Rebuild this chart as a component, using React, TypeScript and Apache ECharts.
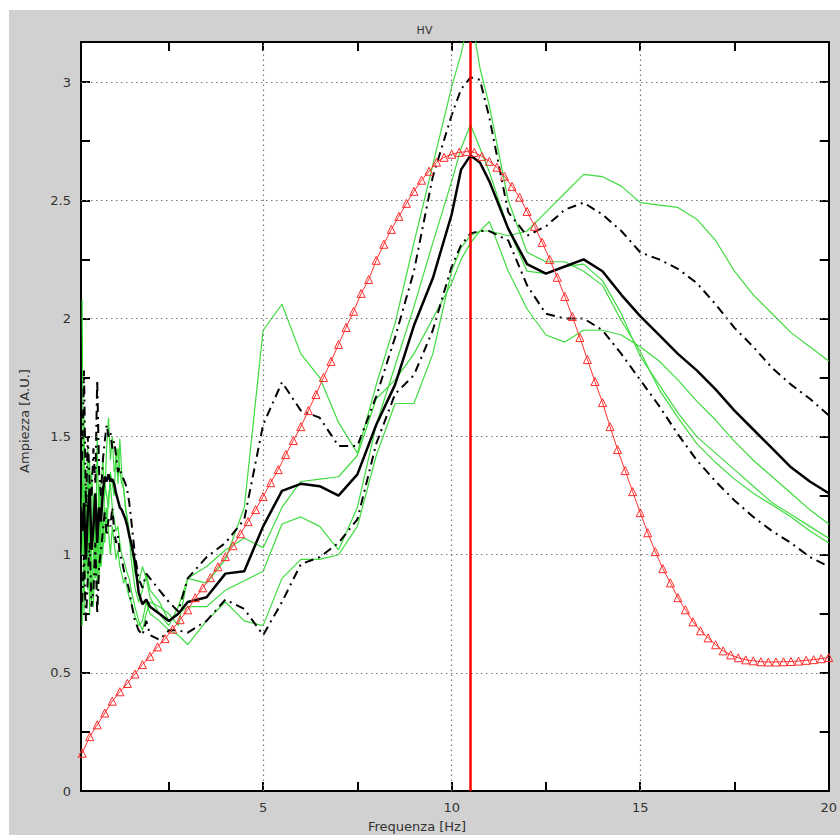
import React, { useEffect, useRef } from "react";
import * as echarts from "echarts";

// ---------- data ----------
const FREQ = [
  0.2, 0.25, 0.3, 0.35, 0.4, 0.45, 0.5, 0.55, 0.6, 0.65, 0.7, 0.75, 0.8, 0.85, 0.9, 0.95,
  1.0, 1.05, 1.1, 1.15, 1.2, 1.25, 1.3, 1.35, 1.4, 1.45, 1.5, 1.6, 1.7, 1.8, 1.9, 2.0,
  2.25, 2.5, 2.75, 3.0,
  3.5, 4.0, 4.5, 5.0, 5.5, 6.0, 6.5, 7.0, 7.5, 8.0, 8.5, 9.0, 9.5, 10.0,
  10.25, 10.5, 10.75,
  11.0, 11.5, 12.0, 12.5, 13.0, 13.5, 14.0, 14.5, 15.0, 15.5, 16.0, 16.5, 17.0, 17.5, 18.0, 18.5, 19.0, 19.5, 20.0,
];

const HV_MEAN = [
  1.1, 1.22, 0.98, 1.18, 1.28, 1.02, 1.12, 1.26, 1.05, 1.2, 1.14, 1.27, 1.33, 1.31, 1.34, 1.31,
  1.32, 1.3, 1.26, 1.23, 1.2, 1.19, 1.17, 1.15, 1.12, 1.08, 1.05, 0.97, 0.84, 0.79, 0.81, 0.78,
  0.75, 0.72, 0.75, 0.8,
  0.82, 0.92, 0.93, 1.12, 1.27, 1.3, 1.29, 1.25, 1.34, 1.55, 1.72, 1.97, 2.17, 2.44,
  2.63, 2.69, 2.66,
  2.58, 2.38, 2.23, 2.19, 2.22, 2.25, 2.2, 2.1, 2.01, 1.93, 1.85, 1.78, 1.7, 1.61, 1.53, 1.45, 1.37, 1.31, 1.26,
];

const HV_UPPER = [
  1.4, 1.78, 1.2, 1.5, 1.3, 1.25, 1.45, 1.3, 1.74, 1.35, 1.25, 1.4, 1.48, 1.55, 1.5, 1.52,
  1.45, 1.48, 1.42, 1.35, 1.37, 1.33, 1.32, 1.3, 1.27, 1.22, 1.15, 1.0, 0.9, 0.86, 0.92, 0.9,
  0.85, 0.8, 0.76, 0.9,
  0.99, 1.05, 1.15, 1.55, 1.73, 1.61, 1.58, 1.46, 1.46, 1.67, 1.92, 2.2, 2.6, 2.86,
  2.97, 3.02, 3.01,
  2.85, 2.45, 2.35, 2.39, 2.46, 2.49, 2.44, 2.37, 2.28, 2.25, 2.21, 2.15, 2.06, 1.96, 1.88, 1.79, 1.72, 1.66, 1.59,
];

const HV_LOWER = [
  0.8, 1.0, 0.72, 0.9, 1.05, 0.78, 0.85, 1.05, 0.75, 0.95, 1.02, 1.1, 1.18, 1.08, 1.15, 1.12,
  1.2, 1.1, 1.05, 1.08, 1.0, 0.98, 0.94, 0.9, 0.88, 0.85, 0.8, 0.72, 0.68, 0.66, 0.72, 0.66,
  0.64, 0.68, 0.68, 0.67,
  0.72, 0.81, 0.77, 0.66, 0.8, 0.96, 0.99, 1.05, 1.15, 1.47, 1.68, 1.76, 1.95, 2.22,
  2.31, 2.36, 2.37,
  2.37, 2.33, 2.14, 2.02, 2.0, 2.0, 1.95, 1.85, 1.74, 1.63, 1.51, 1.4, 1.31, 1.23, 1.16, 1.1, 1.05, 0.99, 0.95,
];

const WIN_1 = [
  2.08, 0.75, 1.3, 0.9, 1.15, 0.8, 1.0, 1.25, 0.85, 1.1, 0.95, 1.15, 1.05, 1.2, 1.1, 1.0,
  1.12, 1.05, 0.98, 1.02, 0.95, 0.92, 0.88, 0.9, 0.85, 0.82, 0.8, 0.74, 0.7, 0.72, 0.8, 0.75,
  0.72, 0.68, 0.66, 0.62,
  0.72, 0.8, 0.72, 0.7, 0.9, 0.98, 0.98, 1.0, 1.12, 1.42, 1.64, 1.64, 1.85, 2.2,
  2.3, 2.35, 2.37,
  2.37, 2.35, 2.37, 2.45, 2.53, 2.61, 2.6, 2.56, 2.49, 2.48, 2.47, 2.42, 2.33, 2.2, 2.1, 2.02, 1.94, 1.88, 1.82,
];

const WIN_2 = [
  1.2, 1.6, 0.9, 1.45, 1.0, 1.35, 1.2, 0.95, 1.5, 1.1, 1.3, 1.4, 1.25, 1.45, 1.58, 1.4,
  1.5, 1.35, 1.38, 1.45, 1.35, 1.3, 1.28, 1.2, 1.15, 1.1, 1.05, 0.92, 0.88, 0.95, 0.9, 0.82,
  0.75, 0.7, 0.78, 0.9,
  0.88, 0.98, 1.2, 1.95, 2.06, 1.85, 1.75, 1.56, 1.43, 1.72, 1.98, 2.32, 2.65, 2.98,
  3.12, 3.3, 3.06,
  2.9, 2.5, 2.28, 2.24, 2.24, 2.2, 2.14, 1.99, 1.86, 1.7, 1.58, 1.47, 1.39, 1.32, 1.26, 1.21, 1.16, 1.1, 1.05,
];

const WIN_3 = [
  0.7, 1.1, 1.25, 0.85, 1.4, 1.0, 0.78, 1.15, 1.05, 0.9, 1.2, 1.0, 1.3, 1.25, 1.2, 1.35,
  1.3, 1.25, 1.45, 1.3, 1.49, 1.35, 1.28, 1.2, 1.15, 1.08, 0.98, 0.86, 0.8, 0.85, 0.92, 0.85,
  0.8, 0.72, 0.75, 0.78,
  0.78, 0.85, 0.89, 0.93, 1.13, 1.16, 1.12, 1.02, 1.2, 1.55, 1.8, 2.05, 2.32, 2.58,
  2.72, 2.82, 2.72,
  2.62, 2.38, 2.2, 2.19, 2.22, 2.23, 2.16, 2.02, 1.84, 1.72, 1.6, 1.5, 1.43, 1.36, 1.29, 1.22, 1.17, 1.12, 1.07,
];

const WIN_4 = [
  1.0, 1.3, 0.95, 1.2, 0.75, 1.1, 1.25, 0.9, 1.1, 1.3, 0.95, 1.05, 1.2, 1.1, 1.25, 1.3,
  1.2, 1.15, 1.1, 1.12, 1.05, 1.0, 0.98, 0.95, 0.92, 0.9, 0.85, 0.78, 0.72, 0.68, 0.75, 0.8,
  0.78, 0.75, 0.7, 0.9,
  0.95, 1.02, 1.07, 1.03, 1.2, 1.31, 1.32, 1.33, 1.42, 1.66, 1.74, 1.85, 2.0, 2.15,
  2.25, 2.32, 2.37,
  2.41, 2.2, 2.04, 1.93, 1.9, 1.95, 1.95, 1.93, 1.88, 1.82, 1.74, 1.65, 1.57, 1.48, 1.4, 1.33, 1.26, 1.19, 1.13,
];

// theoretical curve sampled every MODEL_STEP Hz starting at MODEL_STEP
const MODEL_STEP = 0.2;
const MODEL_CURVE = [
  0.16, 0.23, 0.28, 0.33, 0.38, 0.42, 0.455, 0.495, 0.535, 0.57,
  0.61, 0.645, 0.685, 0.725, 0.767, 0.818, 0.86, 0.903, 0.949, 0.992,
  1.038, 1.089, 1.14, 1.191, 1.246, 1.305, 1.36, 1.424, 1.483, 1.542,
  1.61, 1.678, 1.75, 1.818, 1.89, 1.962, 2.03, 2.106, 2.165, 2.246,
  2.314, 2.377, 2.432, 2.487, 2.538, 2.585, 2.623, 2.661, 2.682, 2.695,
  2.703, 2.706, 2.703, 2.686, 2.665, 2.64, 2.602, 2.559, 2.513, 2.453,
  2.39, 2.322, 2.25, 2.174, 2.093, 2.008, 1.919, 1.826, 1.733, 1.644,
  1.542, 1.445, 1.356, 1.267, 1.178, 1.093, 1.013, 0.941, 0.881, 0.818,
  0.767, 0.716, 0.678, 0.648, 0.619, 0.593, 0.576, 0.564, 0.555, 0.551,
  0.547, 0.546, 0.546, 0.547, 0.548, 0.55, 0.553, 0.556, 0.56, 0.565,
];

const PEAK_FREQ = 10.5;

const X_MIN = 0.17;
const X_MAX = 20;
const Y_MIN = 0;
const Y_MAX = 3.17;
const X_LABELS = [5, 10, 15, 20];
const X_TICKS = [2.5, 5, 7.5, 10, 12.5, 15, 17.5];
const Y_LABELS = [0, 0.5, 1, 1.5, 2, 2.5, 3];
const Y_TICKS = [0.25, 0.5, 0.75, 1, 1.25, 1.5, 1.75, 2, 2.25, 2.5, 2.75, 3];
const X_GRID = [5, 10, 15];
const Y_GRID = [0.5, 1, 1.5, 2, 2.5, 3];

const TITLE = "HV";
const X_NAME = "Frequenza [Hz]";
const Y_NAME = "Ampiezza [A.U.]";

// ---------- chart ----------
const FONT = "DejaVu Sans, Verdana, sans-serif";
const GREEN = "#3fdc3f";

const pairs = (vals: number[]) => FREQ.map((f, i) => [f, vals[i]]);

function buildOption(): any {
  const axisLine = { show: true, onZero: false, lineStyle: { color: "#000", width: 2 } };
  const tickStyle = { color: "#000", width: 2 };
  const labelStyle = { color: "#333", fontSize: 13, fontFamily: FONT, margin: 10 };

  const greenSeries = [WIN_1, WIN_2, WIN_3, WIN_4].map((w, i) => ({
    name: "win" + (i + 1),
    type: "line",
    data: pairs(w),
    showSymbol: false,
    symbol: "none",
    lineStyle: { color: GREEN, width: 1.2 },
    z: 3,
    silent: true,
  }));

  const dashDot = [9, 5, 2, 5];

  return {
    animation: false,
    backgroundColor: "transparent",
    grid: { left: 72, top: 32, right: 11, bottom: 44, show: true, backgroundColor: "#ffffff", borderWidth: 0 },
    xAxis: [
      {
        type: "value", min: X_MIN, max: X_MAX, position: "bottom",
        axisLine,
        axisTick: { show: true, inside: true, length: 9, lineStyle: tickStyle, customValues: X_TICKS },
        axisLabel: { ...labelStyle, customValues: X_LABELS },
        splitLine: { show: false },
      },
      {
        type: "value", min: X_MIN, max: X_MAX, position: "top",
        axisLine,
        axisTick: { show: true, inside: true, length: 9, lineStyle: tickStyle, customValues: X_TICKS },
        axisLabel: { show: false },
        splitLine: { show: false },
      },
    ],
    yAxis: [
      {
        type: "value", min: Y_MIN, max: Y_MAX, position: "left",
        axisLine,
        axisTick: { show: true, inside: true, length: 9, lineStyle: tickStyle, customValues: Y_TICKS },
        axisLabel: { ...labelStyle, customValues: Y_LABELS },
        splitLine: { show: false },
      },
      {
        type: "value", min: Y_MIN, max: Y_MAX, position: "right",
        axisLine,
        axisTick: { show: true, inside: true, length: 9, lineStyle: tickStyle, customValues: Y_TICKS },
        axisLabel: { show: false },
        splitLine: { show: false },
      },
    ],
    graphic: [
      {
        type: "text", x: 415.5, y: 20,
        style: { text: TITLE, fill: "#333", font: `11px ${FONT}`, align: "center", verticalAlign: "middle" },
      },
      {
        type: "text", x: 408, y: 816,
        style: { text: X_NAME, fill: "#333", font: `13px ${FONT}`, align: "center", verticalAlign: "middle" },
      },
      {
        type: "text", x: 15, y: 411, rotation: Math.PI / 2,
        style: { text: Y_NAME, fill: "#333", font: `13px ${FONT}`, align: "center", verticalAlign: "middle" },
      },
    ],
    series: [
      {
        name: "grid",
        type: "line",
        data: [],
        z: 1,
        silent: true,
        markLine: {
          silent: true,
          symbol: ["none", "none"],
          label: { show: false },
          animation: false,
          lineStyle: { color: "#777", width: 1.2, type: [1.5, 3.5] },
          data: [
            ...X_GRID.map((v) => ({ xAxis: v })),
            ...Y_GRID.map((v) => ({ yAxis: v })),
          ],
        },
      },
      ...greenSeries,
      {
        name: "upper",
        type: "line",
        data: pairs(HV_UPPER),
        symbol: "none",
        lineStyle: { color: "#000", width: 2, type: dashDot },
        z: 4,
        silent: true,
      },
      {
        name: "lower",
        type: "line",
        data: pairs(HV_LOWER),
        symbol: "none",
        lineStyle: { color: "#000", width: 2, type: dashDot },
        z: 4,
        silent: true,
      },
      {
        name: "mean",
        type: "line",
        data: pairs(HV_MEAN),
        symbol: "none",
        lineStyle: { color: "#000", width: 2.5 },
        z: 5,
        silent: true,
      },
      {
        name: "model",
        type: "line",
        data: MODEL_CURVE.map((v, i) => [MODEL_STEP * (i + 1), v]),
        symbol: "triangle",
        symbolSize: 8,
        showAllSymbol: true,
        itemStyle: { color: "rgba(255,255,255,0)", borderColor: "#ff2a2a", borderWidth: 1 },
        lineStyle: { color: "#ff3030", width: 1 },
        z: 6,
        silent: true,
        markLine: {
          silent: true,
          symbol: ["none", "none"],
          label: { show: false },
          animation: false,
          lineStyle: { color: "#ff0000", width: 2.5, type: "solid" },
          data: [{ xAxis: PEAK_FREQ }],
        },
      },
    ],
  };
}

export default function App() {
  const ref = useRef<HTMLDivElement>(null);
  useEffect(() => {
    if (!ref.current) return;
    const chart = echarts.init(ref.current, undefined, { renderer: "svg" });
    chart.setOption(buildOption());
    return () => chart.dispose();
  }, []);
  return (
    <div
      ref={ref}
      style={{
        position: "absolute",
        left: 9,
        top: 10,
        width: 831,
        height: 825,
        background: "#d1d1d1",
      }}
    />
  );
}
